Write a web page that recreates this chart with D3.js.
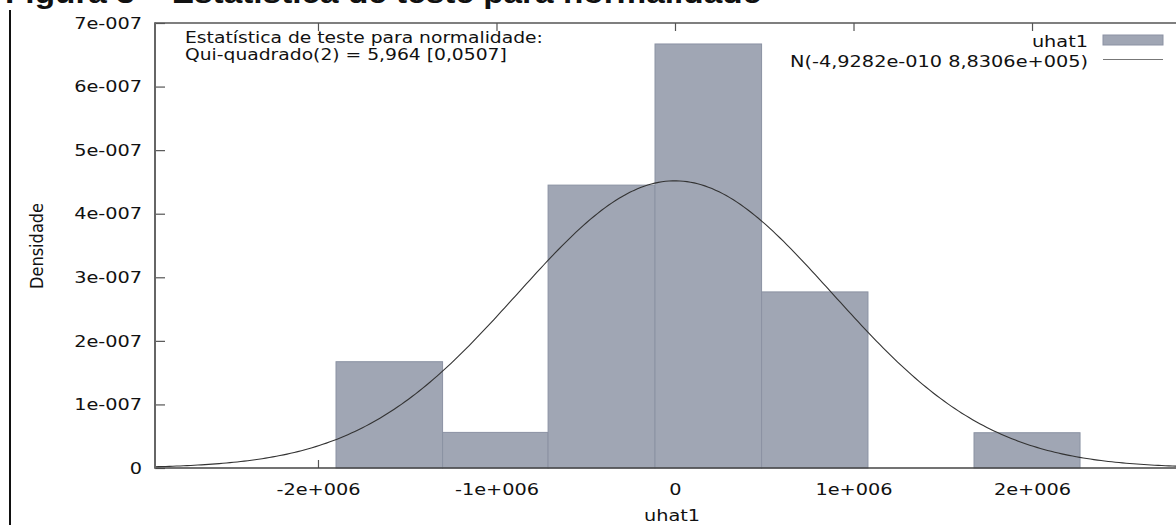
<!DOCTYPE html>
<html>
<head>
<meta charset="utf-8">
<script src="https://cdn.jsdelivr.net/npm/d3@7"></script>
<style>
  body { margin: 0; background: #fff; }
  svg { display: block; }
</style>
</head>
<body>
<div class="graph-container"></div>
<script>
// histogram values (density per bin)
const binEdges = [-1.899e6, -1.302e6, -0.711e6, -0.112e6, 0.485e6, 1.081e6, 1.675e6, 2.269e6];
const densities = [1.672e-7, 0.56e-7, 4.45e-7, 6.67e-7, 2.77e-7, 0, 0.555e-7];

// fitted normal from the legend
const normMean = -4.9282e-10;
const normSd = 8.8306e5;

const xTickValues = [-2e6, -1e6, 0, 1e6, 2e6];
const xTickLabels = ['-2e+006', '-1e+006', '0', '1e+006', '2e+006'];
const yTickValues = [0, 1e-7, 2e-7, 3e-7, 4e-7, 5e-7, 6e-7, 7e-7];
const yTickLabels = ['0', '1e-007', '2e-007', '3e-007', '4e-007', '5e-007', '6e-007', '7e-007'];

const legendLabels = ['uhat1', 'N(-4,9282e-010 8,8306e+005)'];
const noteLines = ['Estatística de teste para normalidade:', 'Qui-quadrado(2) = 5,964 [0,0507]'];
const titleText = 'Figura 3 – Estatística de teste para normalidade';

const dims = { width: 1176, height: 525 };
const plot = { left: 155, right: 1195, top: 23, bottom: 468 };
const stretch = 1.17;   // the picture's text is a bit wider than DejaVu Sans
const barFill = '#a0a6b4';
const barEdge = '#8b92a3';
const textColor = '#111';
const font = '"DejaVu Sans", Verdana, sans-serif';

const svg = d3.select('div.graph-container')
  .append('svg')
  .attr('width', dims.width)
  .attr('height', dims.height);

const x = d3.scaleLinear().domain([-2.913e6, 2.913e6]).range([plot.left, plot.right]);
const y = d3.scaleLinear().domain([0, 7e-7]).range([plot.bottom, plot.top]);

// caption of the page, mostly cut off at the top
svg.append('text')
  .attr('transform', 'translate(5,3) scale(1.15,1)')
  .attr('font-family', '"Liberation Sans", Arial, sans-serif')
  .attr('font-weight', 'bold')
  .attr('font-size', 29)
  .attr('fill', textColor)
  .text(titleText);

// page border on the left
svg.append('line')
  .attr('x1', 10).attr('x2', 10)
  .attr('y1', 10).attr('y2', dims.height)
  .attr('stroke', '#111').attr('stroke-width', 2);

// axes (inward ticks, drawn under the bars)
const xAxis = d3.axisBottom(x)
  .tickValues(xTickValues)
  .tickFormat((d, i) => xTickLabels[i])
  .tickSize(-8)
  .tickPadding(15);

const xTop = d3.axisTop(x)
  .tickValues(xTickValues)
  .tickFormat('')
  .tickSize(-8);

const yAxis = d3.axisLeft(y)
  .tickValues(yTickValues)
  .tickFormat((d, i) => yTickLabels[i])
  .tickSize(-10)
  .tickPadding(11);

const styleAxis = g => {
  g.select('.domain').remove();
  g.selectAll('line').attr('stroke', '#555').attr('stroke-width', 1.2);
  g.selectAll('text')
    .attr('font-family', font)
    .attr('font-size', 16.5)
    .attr('fill', textColor)
    .attr('transform', `scale(${stretch},1)`);
};

svg.append('g')
  .attr('transform', `translate(0,${plot.bottom})`)
  .call(xAxis)
  .call(styleAxis);

svg.append('g')
  .attr('transform', `translate(0,${plot.top})`)
  .call(xTop)
  .call(styleAxis);

svg.append('g')
  .attr('transform', `translate(${plot.left},0)`)
  .call(yAxis)
  .call(styleAxis);

// histogram bars
const bins = densities.map((d, i) => ({ x0: binEdges[i], x1: binEdges[i + 1], density: d }))
  .filter(b => b.density > 0);

svg.append('g')
  .selectAll('rect')
  .data(bins)
  .enter()
  .append('rect')
  .attr('x', d => x(d.x0))
  .attr('width', d => x(d.x1) - x(d.x0))
  .attr('y', d => y(d.density))
  .attr('height', d => y(0) - y(d.density))
  .attr('fill', barFill)
  .attr('stroke', barEdge)
  .attr('stroke-width', 1);

// normal density curve
const normPdf = v => Math.exp(-0.5 * ((v - normMean) / normSd) ** 2) / (normSd * Math.sqrt(2 * Math.PI));
const curveXs = d3.range(x.domain()[0], x.domain()[1], 2e4);

const line = d3.line()
  .x(d => x(d))
  .y(d => y(normPdf(d)));

svg.append('path')
  .datum(curveXs)
  .attr('d', line)
  .attr('fill', 'none')
  .attr('stroke', '#333')
  .attr('stroke-width', 1.1);

// border lines on top
svg.append('path')
  .attr('d', `M${plot.left},${plot.top}H${plot.right}`)
  .attr('stroke', '#555').attr('stroke-width', 1.5);
svg.append('path')
  .attr('d', `M${plot.left},${plot.bottom}H${plot.right}`)
  .attr('stroke', '#444').attr('stroke-width', 1.5);
svg.append('path')
  .attr('d', `M${plot.left},${plot.top - 0.75}V${plot.bottom + 0.75}`)
  .attr('stroke', '#666').attr('stroke-width', 2);

// axis titles
svg.append('text')
  .attr('transform', `translate(672,521) scale(${stretch},1)`)
  .attr('text-anchor', 'middle')
  .attr('font-family', font)
  .attr('font-size', 16.5)
  .attr('fill', textColor)
  .text('uhat1');

svg.append('text')
  .attr('transform', 'translate(43,246) rotate(-90)')
  .attr('text-anchor', 'middle')
  .attr('font-family', '"Liberation Sans Narrow", "DejaVu Sans Condensed", sans-serif')
  .attr('font-size', 18)
  .attr('fill', textColor)
  .text('Densidade');

// test statistic note
svg.append('g')
  .selectAll('text')
  .data(noteLines)
  .enter()
  .append('text')
  .attr('transform', (d, i) => `translate(185,${43 + i * 17}) scale(${stretch},1)`)
  .attr('font-family', font)
  .attr('font-size', 16)
  .attr('fill', textColor)
  .text(d => d);

// legend
const legend = svg.append('g');
legend.selectAll('text')
  .data(legendLabels)
  .enter()
  .append('text')
  .attr('transform', (d, i) => `translate(1088,${47 + i * 20}) scale(${stretch},1)`)
  .attr('text-anchor', 'end')
  .attr('font-family', font)
  .attr('font-size', 16.5)
  .attr('fill', textColor)
  .text(d => d);

legend.append('rect')
  .attr('x', 1103).attr('y', 35)
  .attr('width', 60).attr('height', 10)
  .attr('fill', barFill)
  .attr('stroke', barEdge)
  .attr('stroke-width', 1);

legend.append('line')
  .attr('x1', 1103).attr('x2', 1163)
  .attr('y1', 59.5).attr('y2', 59.5)
  .attr('stroke', '#777')
  .attr('stroke-width', 1);
</script>
</body>
</html>
